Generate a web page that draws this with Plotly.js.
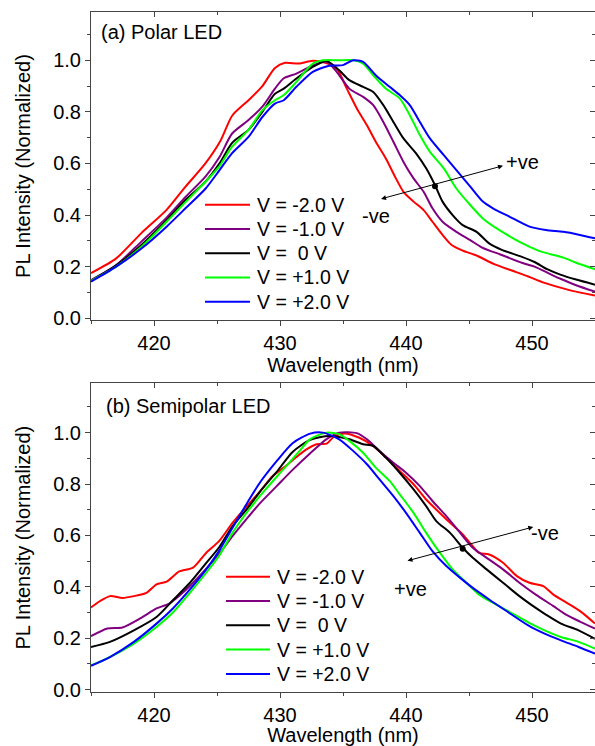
<!DOCTYPE html>
<html>
<head>
<meta charset="utf-8">
<script src="https://cdn.plot.ly/plotly-3.0.1.min.js"></script>
<style>
  html, body { margin: 0; padding: 0; background: #fff; }
  #chart { width: 595px; height: 746px; }
</style>
</head>
<body>
<div id="chart"></div>
<script>
// ---------- Data ----------
const seriesNames = ["V = -2.0 V", "V = -1.0 V", "V =  0 V", "V = +1.0 V", "V = +2.0 V"];
const seriesColors = ["#ff0000", "#800080", "#000000", "#00ff00", "#0000ff"];

// (a) Polar LED
const polarM2X = [415.0,417.0,419.0,421.0,422.5,424.0,425.3,426.2,427.5,428.6,429.6,430.4,431.5,432.6,433.6,434.5,435.3,436.1,436.9,437.6,438.4,439.2,439.8,440.6,441.4,442.1,442.9,443.6,444.5,445.5,447.0,448.4,449.7,451.0,452.9,455.0];
const polarM2Y = [0.175,0.232,0.33,0.42,0.51,0.595,0.69,0.785,0.845,0.90,0.97,0.99,0.987,0.998,0.99,0.968,0.89,0.813,0.748,0.684,0.619,0.542,0.49,0.452,0.419,0.374,0.323,0.285,0.262,0.245,0.21,0.185,0.162,0.137,0.11,0.088];

const polarM1X = [415.0,417.0,419.0,421.0,422.5,424.1,425.2,426.2,427.5,428.6,429.6,430.3,431.3,432.6,433.7,434.5,435.5,436.6,437.4,438.2,439.0,439.8,440.6,441.4,442.1,442.9,444.0,445.1,446.0,447.6,449.2,450.2,451.5,452.3,453.5,455.0];
const polarM1Y = [0.148,0.206,0.297,0.39,0.47,0.55,0.625,0.716,0.768,0.82,0.89,0.93,0.948,0.98,0.994,0.955,0.89,0.858,0.826,0.761,0.684,0.606,0.542,0.49,0.426,0.374,0.335,0.303,0.275,0.245,0.215,0.20,0.17,0.152,0.128,0.103];

const polar0X = [415.0,417.0,419.0,421.0,422.5,424.1,425.2,426.2,427.5,428.6,429.6,430.3,431.3,432.6,433.7,434.7,435.5,436.6,437.4,438.2,439.0,439.8,440.8,441.6,442.3,442.9,443.7,444.5,445.6,446.6,447.6,449.2,450.2,451.2,452.3,453.5,455.0];
const polar0Y = [0.145,0.205,0.284,0.38,0.458,0.53,0.60,0.68,0.73,0.80,0.87,0.89,0.929,0.974,0.997,0.961,0.923,0.897,0.877,0.826,0.761,0.697,0.639,0.581,0.516,0.452,0.40,0.361,0.335,0.29,0.265,0.238,0.218,0.19,0.168,0.15,0.13];

const polarP1X = [415.0,417.0,419.0,421.0,422.5,424.1,425.2,426.2,427.5,428.6,429.6,430.3,431.3,432.6,433.4,434.7,435.8,436.6,437.4,438.4,439.5,440.3,441.1,441.9,443.0,444.0,445.1,446.1,447.2,448.5,449.5,450.5,451.5,452.5,453.5,455.0];
const polarP1Y = [0.145,0.20,0.277,0.374,0.45,0.53,0.59,0.665,0.73,0.806,0.845,0.865,0.916,0.987,1.0,1.0,1.0,0.987,0.942,0.89,0.852,0.787,0.71,0.645,0.581,0.503,0.439,0.387,0.348,0.31,0.284,0.262,0.248,0.235,0.215,0.19];

const polarP2X = [415.0,417.0,419.0,421.0,422.5,424.1,425.2,426.2,427.5,428.6,429.6,430.3,431.3,432.6,433.9,435.0,435.8,436.6,437.6,438.7,439.5,440.3,441.1,441.9,443.0,444.0,445.1,446.1,446.9,448.2,449.8,451.1,452.5,453.8,455.0];
const polarP2Y = [0.142,0.20,0.27,0.355,0.426,0.503,0.574,0.64,0.703,0.78,0.832,0.845,0.897,0.955,0.979,0.981,1.0,0.994,0.942,0.897,0.865,0.826,0.761,0.697,0.632,0.574,0.51,0.452,0.426,0.394,0.355,0.342,0.335,0.323,0.31];

// (b) Semipolar LED
const semiM2X = [415.0,415.7,416.5,417.5,418.4,419.4,420.2,421.0,422.0,423.1,424.1,425.2,426.2,427.3,428.4,429.4,430.5,431.3,432.1,432.9,433.7,434.3,435.1,436.3,437.4,438.4,439.5,440.6,441.6,442.4,443.5,444.5,445.3,445.8,446.6,447.7,448.8,449.8,450.9,451.7,453.0,454.0,455.0];
const semiM2Y = [0.32,0.344,0.364,0.357,0.364,0.377,0.41,0.42,0.46,0.475,0.53,0.58,0.647,0.71,0.77,0.83,0.872,0.905,0.935,0.955,0.957,0.985,0.997,0.98,0.948,0.903,0.851,0.799,0.74,0.701,0.649,0.604,0.558,0.532,0.526,0.494,0.442,0.416,0.403,0.37,0.331,0.299,0.257];

const semiM1X = [415.0,416.3,417.5,418.9,420.2,421.2,422.5,423.8,425.2,426.2,427.5,428.4,429.7,431.0,432.4,433.7,434.7,436.1,436.9,437.9,439.0,440.0,441.1,442.1,443.2,444.3,445.3,446.4,447.7,449.0,450.3,451.7,452.7,453.8,455.0];
const semiM1Y = [0.208,0.238,0.242,0.277,0.316,0.335,0.387,0.452,0.53,0.595,0.673,0.725,0.79,0.855,0.92,0.975,1.0,0.998,0.974,0.929,0.883,0.844,0.792,0.734,0.675,0.61,0.552,0.513,0.468,0.416,0.37,0.325,0.292,0.265,0.238];

const semi0X = [415.0,416.5,418.4,420.2,421.5,422.8,424.1,425.2,426.2,427.5,428.4,429.7,431.0,432.4,433.9,435.5,436.6,437.4,438.4,439.5,440.6,441.6,442.4,443.5,444.5,445.3,446.4,447.7,449.0,450.3,451.1,452.3,453.7,455.0];
const semi0Y = [0.166,0.186,0.231,0.283,0.348,0.413,0.49,0.556,0.634,0.71,0.77,0.845,0.925,0.972,0.987,0.974,0.955,0.948,0.903,0.844,0.779,0.714,0.656,0.61,0.552,0.513,0.468,0.416,0.364,0.318,0.292,0.257,0.231,0.198];

const semiP1X = [415.0,416.5,418.4,420.2,421.5,422.8,424.1,425.2,426.2,427.5,428.8,430.1,431.4,432.4,433.7,434.7,435.5,436.6,437.6,438.7,439.5,440.6,441.6,442.7,443.7,444.8,445.8,447.2,448.5,449.7,451.0,452.3,453.7,455.0];
const semiP1Y = [0.095,0.127,0.179,0.244,0.30,0.374,0.452,0.523,0.608,0.698,0.776,0.848,0.92,0.975,1.0,0.994,0.968,0.922,0.864,0.812,0.76,0.688,0.61,0.532,0.468,0.416,0.37,0.33,0.295,0.262,0.231,0.205,0.186,0.16];

const semiP2X = [415.0,416.5,418.4,420.2,421.5,422.8,424.1,425.2,426.2,427.5,428.4,429.7,431.0,432.4,433.4,434.7,435.8,436.9,437.9,439.0,440.0,441.1,442.1,443.2,444.3,445.3,446.6,448.0,449.7,451.0,452.3,453.7,455.0];
const semiP2Y = [0.093,0.127,0.186,0.257,0.316,0.387,0.465,0.543,0.627,0.735,0.805,0.887,0.959,0.996,1.0,0.974,0.929,0.877,0.818,0.753,0.688,0.61,0.539,0.481,0.435,0.396,0.351,0.305,0.25,0.218,0.192,0.166,0.14];

const polarX = [polarM2X, polarM1X, polar0X, polarP1X, polarP2X];
const polarY = [polarM2Y, polarM1Y, polar0Y, polarP1Y, polarP2Y];
const semiX = [semiM2X, semiM1X, semi0X, semiP1X, semiP2X];
const semiY = [semiM2Y, semiM1Y, semi0Y, semiP1Y, semiP2Y];

const xTickVals = [420, 430, 440, 450];
const yTickVals = [0.0, 0.2, 0.4, 0.6, 0.8, 1.0];
const yTickText = ["0.0", "0.2", "0.4", "0.6", "0.8", "1.0"];

// ---------- Traces ----------
const traces = [];
for (let i = 0; i < 5; i++) {
  traces.push({
    x: polarX[i], y: polarY[i], type: "scatter", mode: "lines",
    name: seriesNames[i], showlegend: false,
    line: { color: seriesColors[i], width: 2, shape: "spline", smoothing: 0.7 },
    xaxis: "x", yaxis: "y", hoverinfo: "skip"
  });
}
for (let i = 0; i < 5; i++) {
  traces.push({
    x: semiX[i], y: semiY[i], type: "scatter", mode: "lines",
    name: seriesNames[i], showlegend: false,
    line: { color: seriesColors[i], width: 2, shape: "spline", smoothing: 0.7 },
    xaxis: "x2", yaxis: "y2", hoverinfo: "skip"
  });
}
// empty helper traces so the mirrored frame axes get drawn
traces.push({ x: [], y: [], xaxis: "x3", yaxis: "y3", showlegend: false, hoverinfo: "skip", type: "scatter" });
traces.push({ x: [], y: [], xaxis: "x4", yaxis: "y4", showlegend: false, hoverinfo: "skip", type: "scatter" });

// ---------- Layout ----------
const FONT = "Arial, 'Liberation Sans', sans-serif";
const AXC = "#444";
const W = 595, H = 746, ML = 91, MR = 0, MT = 12, MB = 54;
const PW = W - ML - MR, PH = H - MT - MB;
const px2paperX = px => (px - ML) / PW;
const px2paperY = py => (H - MB - py) / PH;

function xMain(anchor) {
  return {
    anchor: anchor, range: [415, 455], tickvals: xTickVals,
    ticks: "outside", ticklen: 5, tickwidth: 1, tickcolor: AXC,
    minor: { dtick: 5, tick0: 415, ticks: "outside", ticklen: 3, tickwidth: 1, tickcolor: AXC, showgrid: false },
    showline: true, linecolor: AXC, linewidth: 1, mirror: false,
    showgrid: false, zeroline: false, fixedrange: true,
    tickfont: { family: FONT, size: 20, color: "#000" },
    title: { text: "Wavelength (nm)", font: { family: FONT, size: 20, color: "#000" }, standoff: 4 },
    automargin: false
  };
}
function xTop(overlay, anchor) {
  return {
    overlaying: overlay, anchor: anchor, side: "top", range: [415, 455], tickvals: xTickVals,
    ticks: "inside", ticklen: 5, tickwidth: 1, tickcolor: AXC, showticklabels: false,
    minor: { dtick: 5, tick0: 415, ticks: "inside", ticklen: 3, tickwidth: 1, tickcolor: AXC, showgrid: false },
    showline: true, linecolor: AXC, linewidth: 1, showgrid: false, zeroline: false, fixedrange: true
  };
}
function yMain(anchor, domain, range) {
  return {
    anchor: anchor, domain: domain, range: range,
    tickvals: yTickVals, ticktext: yTickText,
    ticks: "outside", ticklen: 5, tickwidth: 1, tickcolor: AXC,
    minor: { dtick: 0.1, tick0: 0, ticks: "outside", ticklen: 3, tickwidth: 1, tickcolor: AXC, showgrid: false },
    showline: true, linecolor: AXC, linewidth: 1, showgrid: false, zeroline: false, fixedrange: true,
    tickfont: { family: FONT, size: 20, color: "#000" },
    title: { text: "PL Intensity (Normalized)", font: { family: FONT, size: 20, color: "#000" }, standoff: 17 },
    automargin: false
  };
}
function yRight(overlay, anchor, range) {
  return {
    overlaying: overlay, anchor: anchor, side: "right", range: range,
    tickvals: yTickVals, ticks: "inside", ticklen: 5, tickwidth: 1, tickcolor: AXC, showticklabels: false,
    minor: { dtick: 0.1, tick0: 0, ticks: "inside", ticklen: 3, tickwidth: 1, tickcolor: AXC, showgrid: false },
    showline: true, linecolor: AXC, linewidth: 1, showgrid: false, zeroline: false, fixedrange: true
  };
}

const rangeA = [-0.007, 1.187];
const rangeB = [-0.009, 1.192];

const annotations = [
  { text: "(a) Polar LED", x: 415.67, y: 1.108, xref: "x", yref: "y", xanchor: "left", yanchor: "middle",
    showarrow: false, font: { family: FONT, size: 20, color: "#000" } },
  { text: "(b) Semipolar LED", x: 416.07, y: 1.102, xref: "x2", yref: "y2", xanchor: "left", yanchor: "middle",
    showarrow: false, font: { family: FONT, size: 20, color: "#000" } },
  { text: "", x: 447.7, y: 0.591, ax: 437.9, ay: 0.461, xref: "x", yref: "y", axref: "x", ayref: "y",
    showarrow: true, arrowside: "end+start", arrowhead: 2, startarrowhead: 2, arrowsize: 1, startarrowsize: 1,
    arrowwidth: 1, arrowcolor: "#000", standoff: 0, startstandoff: 0 },
  { text: "", x: 450.1, y: 0.633, ax: 440.0, ay: 0.50, xref: "x2", yref: "y2", axref: "x2", ayref: "y2",
    showarrow: true, arrowside: "end+start", arrowhead: 2, startarrowhead: 2, arrowsize: 1, startarrowsize: 1,
    arrowwidth: 1, arrowcolor: "#000", standoff: 0, startstandoff: 0 },
  { text: "+ve", x: 449.25, y: 0.606, xref: "x", yref: "y", showarrow: false, font: { family: FONT, size: 20, color: "#000" } },
  { text: "-ve", x: 437.63, y: 0.398, xref: "x", yref: "y", showarrow: false, font: { family: FONT, size: 20, color: "#000" } },
  { text: "-ve", x: 451.0, y: 0.608, xref: "x2", yref: "y2", showarrow: false, font: { family: FONT, size: 20, color: "#000" } },
  { text: "+ve", x: 440.34, y: 0.393, xref: "x2", yref: "y2", showarrow: false, font: { family: FONT, size: 20, color: "#000" } }
];
const shapes = [
  { type: "circle", xref: "x", yref: "y", xsizemode: "pixel", ysizemode: "pixel",
    xanchor: 442.3, yanchor: 0.512, x0: -3, x1: 3, y0: -3, y1: 3, fillcolor: "#000", line: { width: 0 } },
  { type: "circle", xref: "x2", yref: "y2", xsizemode: "pixel", ysizemode: "pixel",
    xanchor: 444.5, yanchor: 0.548, x0: -3, x1: 3, y0: -3, y1: 3, fillcolor: "#000", line: { width: 0 } }
];

// Legends (drawn as keys: line sample + label), one per panel
const legendBoxes = [
  { lineX0: 205, lineX1: 250, textX: 255, rowY0: 204.7, rowStep: 24.25 },
  { lineX0: 226, lineX1: 270, textX: 275, rowY0: 576.7, rowStep: 24.3 }
];
legendBoxes.forEach(box => {
  for (let i = 0; i < seriesNames.length; i++) {
    const py = box.rowY0 + i * box.rowStep;
    shapes.push({ type: "line", xref: "paper", yref: "paper",
      x0: px2paperX(box.lineX0), x1: px2paperX(box.lineX1), y0: px2paperY(py), y1: px2paperY(py),
      line: { color: seriesColors[i], width: 2 } });
    annotations.push({ text: seriesNames[i].replace(/  /g, " \u00a0"), xref: "paper", yref: "paper",
      x: px2paperX(box.textX), y: px2paperY(py), xanchor: "left", yanchor: "middle", showarrow: false,
      font: { family: FONT, size: 19.5, color: "#000" } });
  }
});

const layout = {
  width: W, height: H,
  margin: { l: ML, r: MR, t: MT, b: MB },
  paper_bgcolor: "#fff", plot_bgcolor: "#fff",
  font: { family: FONT, color: "#000" },
  showlegend: false,
  xaxis: xMain("y"),
  yaxis: yMain("x", [0.547, 1.0], rangeA),
  xaxis2: xMain("y2"),
  yaxis2: yMain("x2", [0.0, 0.454], rangeB),
  xaxis3: xTop("x", "y"),
  yaxis3: yRight("y", "x", rangeA),
  xaxis4: xTop("x2", "y2"),
  yaxis4: yRight("y2", "x2", rangeB),
  annotations: annotations,
  shapes: shapes
};

Plotly.newPlot("chart", traces, layout, { staticPlot: true, displayModeBar: false });
</script>
</body>
</html>
